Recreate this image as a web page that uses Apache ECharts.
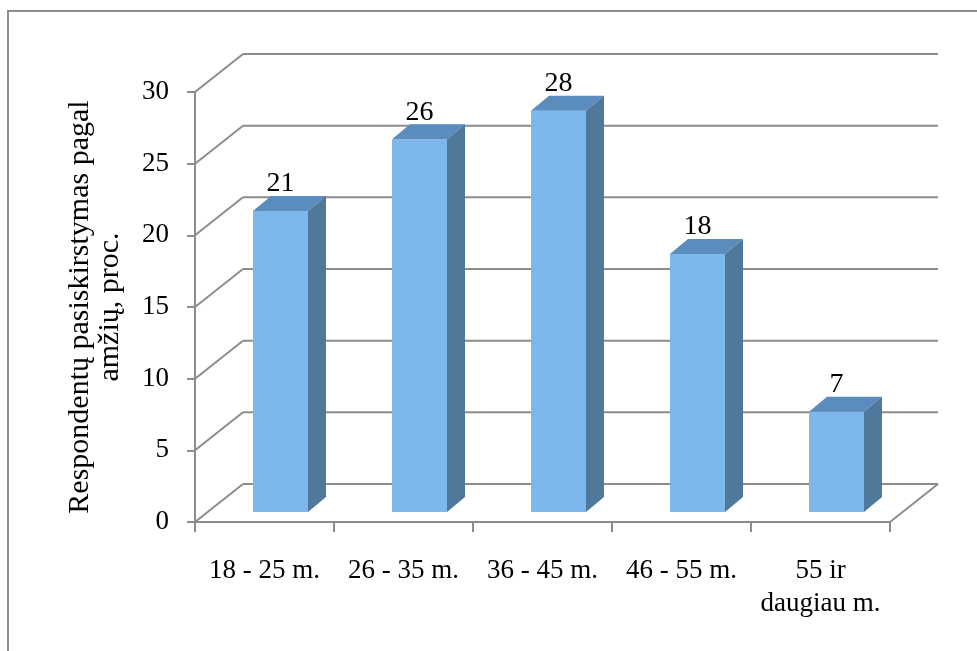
<!DOCTYPE html>
<html>
<head>
<meta charset="utf-8">
<script src="https://cdn.jsdelivr.net/npm/echarts@6/dist/echarts.min.js"></script>
<style>
html,body{margin:0;padding:0;background:#fff;}
#chart{width:977px;height:651px;}
</style>
</head>
<body>
<div id="chart"></div>
<script>
const categories = ['18 - 25 m.', '26 - 35 m.', '36 - 45 m.', '46 - 55 m.', '55 ir\ndaugiau m.'];
const values = [21, 26, 28, 18, 7];
const yTicks = [0, 5, 10, 15, 20, 25, 30];
const yTitle = 'Respondentų pasiskirstymas pagal\namžių, proc.';

const FONT = 'Liberation Serif';
const GRAY = '#8c8c8c';
const DX = 48, DY = -38;          // depth of the 3D box
const BAR_OFF_X = 16, BAR_OFF_Y = -10; // bar front face position inside box
const BAR_HALF = 27.5;
const SIDE_X = 18, SIDE_Y = -15;

const chart = echarts.init(document.getElementById('chart'), null, {renderer: 'canvas'});

const lineStyle = {stroke: GRAY, lineWidth: 2, fill: null};

chart.setOption({
  backgroundColor: '#fff',
  animation: false,
  graphic: [{
    type: 'rect', silent: true, z: -10,
    shape: {x: 8, y: 11, width: 1100, height: 800},
    style: {fill: 'none', stroke: GRAY, lineWidth: 2}
  }],
  grid: {left: 195, right: 87, top: 92, bottom: 129, containLabel: false},
  xAxis: {
    type: 'category',
    data: categories,
    boundaryGap: true,
    axisLine: {show: true, lineStyle: {color: GRAY, width: 2}},
    axisTick: {show: true, length: 10, alignWithLabel: false, lineStyle: {color: GRAY, width: 2}},
    axisLabel: {color: '#000', fontFamily: FONT, fontSize: 27, margin: 32, lineHeight: 33, verticalAlign: 'top', interval: 0},
    splitLine: {show: false}
  },
  yAxis: {
    type: 'value',
    min: 0, max: 30, interval: 5,
    name: yTitle,
    nameLocation: 'middle',
    nameRotate: 90,
    nameGap: 70,
    nameTextStyle: {color: '#000', fontFamily: FONT, fontSize: 30, lineHeight: 30},
    axisLine: {show: true, lineStyle: {color: GRAY, width: 2}},
    axisTick: {show: true, length: 8, lineStyle: {color: GRAY, width: 2}},
    axisLabel: {color: '#000', fontFamily: FONT, fontSize: 27, margin: 26},
    splitLine: {show: false}
  },
  series: [
    {
      type: 'custom',
      name: 'walls',
      silent: true,
      z: 1,
      data: yTicks.map(v => [0, v]),
      renderItem: function (params, api) {
        const v = api.value(1);
        const cs = params.coordSys;
        const x0 = cs.x, x1 = cs.x + cs.width;
        const y = api.coord([0, v])[1];
        const children = [
          {type: 'line', shape: {x1: x0, y1: y, x2: x0 + DX, y2: y + DY}, style: lineStyle},
          {type: 'line', shape: {x1: x0 + DX, y1: y + DY, x2: x1 + DX, y2: y + DY}, style: lineStyle}
        ];
        if (v === 0) {
          children.push({type: 'line', shape: {x1: x1, y1: y, x2: x1 + DX, y2: y + DY}, style: lineStyle});
        }
        return {type: 'group', children: children};
      }
    },
    {
      type: 'custom',
      name: 'bars',
      z: 3,
      data: values.map((v, i) => [i, v]),
      renderItem: function (params, api) {
        const i = api.value(0), v = api.value(1);
        const top = api.coord([i, v]);
        const base = api.coord([i, 0]);
        const cx = top[0] + BAR_OFF_X;
        const L = cx - BAR_HALF, R = cx + BAR_HALF;
        const T = top[1] + BAR_OFF_Y, B = base[1] + BAR_OFF_Y;
        return {
          type: 'group',
          children: [
            {type: 'polygon', shape: {points: [[L, T], [R, T], [R, B], [L, B]]}, style: {fill: '#7db7ec'}},
            {type: 'polygon', shape: {points: [[L, T], [R, T], [R + SIDE_X, T + SIDE_Y], [L + SIDE_X, T + SIDE_Y]]}, style: {fill: '#5b8cbe'}},
            {type: 'polygon', shape: {points: [[R, T], [R + SIDE_X, T + SIDE_Y], [R + SIDE_X, B + SIDE_Y], [R, B]]}, style: {fill: '#4f789b'}},
            {type: 'text', style: {
              text: String(v), x: cx, y: T + SIDE_Y + 2,
              align: 'center', verticalAlign: 'bottom',
              textAlign: 'center', textVerticalAlign: 'bottom',
              fontFamily: FONT, fontSize: 28, fill: '#000'
            }}
          ]
        };
      }
    }
  ]
});
</script>
</body>
</html>
